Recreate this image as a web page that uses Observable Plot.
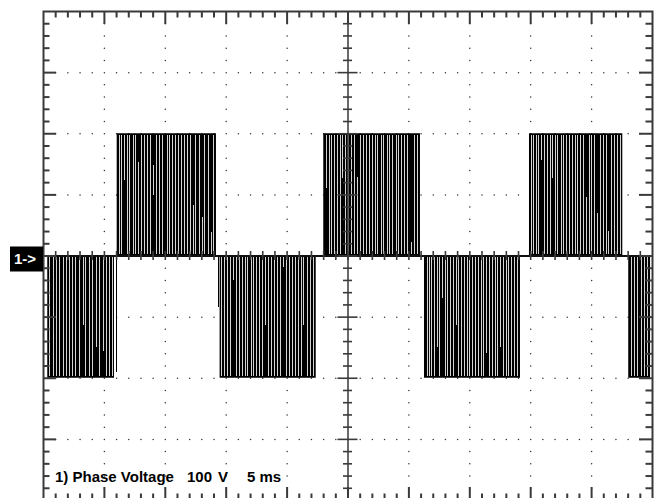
<!DOCTYPE html>
<html><head><meta charset="utf-8">
<script src="https://cdn.jsdelivr.net/npm/d3@7"></script>
<script src="https://cdn.jsdelivr.net/npm/@observablehq/plot@0.6"></script>
<style>html,body{margin:0;padding:0;background:#fff}#chart svg{display:block}</style>
</head><body><div id="chart"></div>
<script>
// ---- Data (time in ms, voltage in V; 5 ms/div, 100 V/div) ----
const burstStart = [0.35, 6.05, 14.50, 23.01, 31.28, 39.90, 48.05];
const burstEnd   = [5.83, 14.20, 22.39, 30.95, 39.16, 47.56, 49.84];
const burstLevel = [-200, 200, -200, 200, -200, 200, -200];

// full-height gaps (no switching) inside each burst
const gapsA = [0.53, 0.80, 1.07, 1.34, 1.62, 1.89, 2.16, 2.41, 2.65, 2.93, 3.47, 3.75, 4.02, 4.60, 5.17, 5.44, 5.67];
const gapsB = [6.22, 6.43, 6.87, 7.09, 7.36, 7.55, 8.02, 8.27, 8.51, 8.78, 9.28, 9.52, 9.79, 10.16, 10.37, 10.59, 10.84, 11.06, 11.31, 11.58, 11.85, 12.07, 12.50, 12.78, 13.24, 13.52, 13.98];
const gapsC = [14.64, 14.86, 15.13, 15.35, 15.85, 16.09, 16.36, 16.58, 16.77, 17.05, 17.27, 17.51, 17.73, 18.00, 18.47, 18.69, 18.96, 19.18, 19.46, 19.93, 20.20, 20.44, 20.66, 20.94, 21.16, 21.65, 21.92, 22.14];
const gapsD = [23.48, 23.67, 23.89, 24.11, 24.38, 24.79, 25.04, 25.26, 25.53, 26.03, 26.25, 26.49, 26.77, 26.99, 27.23, 27.45, 27.73, 27.94, 28.22, 28.43, 28.68, 28.96, 29.17, 29.42, 29.64, 29.91, 30.46, 30.70];
const gapsE = [31.50, 31.69, 31.88, 32.10, 32.54, 32.98, 33.19, 33.41, 33.63, 34.10, 34.34, 34.56, 34.79, 35.00, 35.25, 35.47, 35.71, 35.93, 36.15, 36.62, 36.86, 37.08, 37.30, 37.74, 37.99, 38.21, 38.45, 38.67, 38.89];
const gapsF = [40.04, 40.25, 40.45, 40.66, 41.13, 41.35, 41.60, 42.01, 42.22, 42.50, 42.72, 42.94, 43.18, 43.41, 43.65, 43.87, 44.09, 44.33, 44.80, 45.02, 45.24, 45.71, 45.95, 46.20, 46.66, 46.88, 47.10, 47.35];
const gapsG = [48.25, 48.52, 48.79, 49.07, 49.34, 49.61];

// partial gaps: [time, from V, to V]
const partialGaps = [
  [3.26, -113, -3], [4.35, -150, -3], [4.95, -157, -3],
  [6.65, 123, 197], [7.82, 3, 153], [9.06, 99, 148], [12.29, 3, 82], [13.03, 3, 63], [13.79, 3, 39],
  [15.62, -40, -3], [18.23, -113, -3], [19.70, -19, -3], [21.37, -113, -3],
  [23.21, 110, 197], [24.57, 126, 197], [25.80, 3, 129], [30.19, 3, 22],
  [32.32, -150, -3], [32.78, -70, -3], [33.88, -113, -3], [36.40, -160, -3], [37.52, -150, -3],
  [40.91, 156, 197], [41.81, 126, 197], [44.58, 3, 95], [45.46, 3, 70], [46.41, 3, 40]
];

// isolated transients
const spikeTime = [14.37, 5.98];
const spikeVolt = [-84, -190];

const caption = ["1) Phase Voltage", "100", "V", "5 ms"];
const channelLabel = "1->";

// ---- Build tables ----
const gapLists = [gapsA, gapsB, gapsC, gapsD, gapsE, gapsF, gapsG];
const bursts = burstStart.map((s, i) => ({x1: s, x2: burstEnd[i], level: burstLevel[i]}));
const gapRows = [];
gapLists.forEach((arr, i) => {
  const L = burstLevel[i], s = Math.sign(L);
  arr.forEach(t => gapRows.push({t, y1: 3 * s, y2: L - 3 * s}));
});
partialGaps.forEach(([t, a, b]) => gapRows.push({t, y1: a, y2: b}));
const spikes = spikeTime.map((t, i) => ({t, v: spikeVolt[i]}));

// ---- Graticule ----
const W = 660, H = 498;
const mL = 43, mR = 8, mT = 11, mB = -2;
const kx = (W - mL - mR) / 50, ky = (H - mT - mB) / 800;
const xTicks = d3.range(1, 50);
const yTicks = d3.range(-380, 381, 20);
const majX = t => t % 5 === 0, majY = v => v % 100 === 0;
const minorLen = 6.5, majorLen = 13, crossLen = 4.5, crossMaj = 10;
const xDiv = [5, 10, 15, 20, 30, 35, 40, 45];
const yDiv = [-300, -200, -100, 100, 200, 300];
const gridDots = [];
xDiv.forEach(x => yTicks.forEach(y => gridDots.push({x, y})));
yDiv.forEach(y => xTicks.forEach(x => { if (!xDiv.includes(x)) gridDots.push({x, y}); }));

const lenX = t => (majX(t) ? majorLen : minorLen);
const lenY = v => (majY(v) ? majorLen : minorLen);
const axisColor = "#3a3a3a";

const chart = Plot.plot({
  width: W, height: H,
  marginLeft: mL, marginRight: mR, marginTop: mT, marginBottom: mB,
  x: {domain: [0, 50], axis: null},
  y: {domain: [-400, 400], axis: null},
  style: {background: "#fff"},
  marks: [
    Plot.dot(gridDots, {x: "x", y: "y", r: 0.75, fill: "#333", stroke: null}),
    Plot.rect(bursts, {x1: "x1", x2: "x2", y1: 0, y2: "level", fill: "#000"}),
    Plot.ruleX(gapRows, {x: "t", y1: "y1", y2: "y2", stroke: "#d4d4d4", strokeWidth: 1, shapeRendering: "crispEdges"}),
    Plot.ruleX(spikes, {x: "t", y1: 0, y2: "v", stroke: "#000", strokeWidth: 1, shapeRendering: "crispEdges"}),
    Plot.ruleY([0], {stroke: "#111", strokeWidth: 2}),
    Plot.ruleX([25], {stroke: "#444", strokeWidth: 1.6}),
    // centre-line ticks
    Plot.ruleX(xTicks, {x: d => d, y1: d => -crossLen / ky, y2: d => crossLen / ky, stroke: axisColor, strokeWidth: 1.6}),
    Plot.ruleY(yTicks, {y: d => d, x1: d => 25 - (majY(d) ? crossMaj : crossLen) / kx, x2: d => 25 + (majY(d) ? crossMaj : crossLen) / kx, stroke: axisColor, strokeWidth: 1.6}),
    // edge ticks
    Plot.ruleX(xTicks, {x: d => d, y1: 400, y2: d => 400 - lenX(d) / ky, stroke: axisColor, strokeWidth: 2}),
    Plot.ruleX(xTicks, {x: d => d, y1: -400, y2: d => -400 + lenX(d) / ky, stroke: axisColor, strokeWidth: 2}),
    Plot.ruleY(yTicks, {y: d => d, x1: 0, x2: d => lenY(d) / kx, stroke: axisColor, strokeWidth: 2}),
    Plot.ruleY(yTicks, {y: d => d, x1: 50, x2: d => 50 - lenY(d) / kx, stroke: axisColor, strokeWidth: 2}),
    Plot.frame({stroke: axisColor, strokeWidth: 2})
  ]
});

// channel marker and caption
const svg = d3.select(chart);
const y0 = chart.scale("y").apply(0);
const xL = chart.scale("x").apply(0);
svg.append("rect").attr("x", 10).attr("y", y0 - 9).attr("width", xL - 10).attr("height", 25).attr("fill", "#000");
svg.append("text").attr("x", 14).attr("y", y0 + 8).attr("fill", "#fff").attr("text-anchor", "start")
  .attr("font-family", "Liberation Sans, Arial, sans-serif").attr("font-weight", "bold").attr("font-size", 15)
  .text(channelLabel);
const capX = [55, 187, 218, 247];
caption.forEach((c, i) => {
  svg.append("text").attr("x", capX[i]).attr("y", 482).attr("fill", "#000").attr("text-anchor", "start")
    .attr("font-family", "Liberation Sans, Arial, sans-serif").attr("font-weight", "bold").attr("font-size", 15)
    .text(c);
});
document.getElementById("chart").appendChild(chart);
</script>
</body></html>
